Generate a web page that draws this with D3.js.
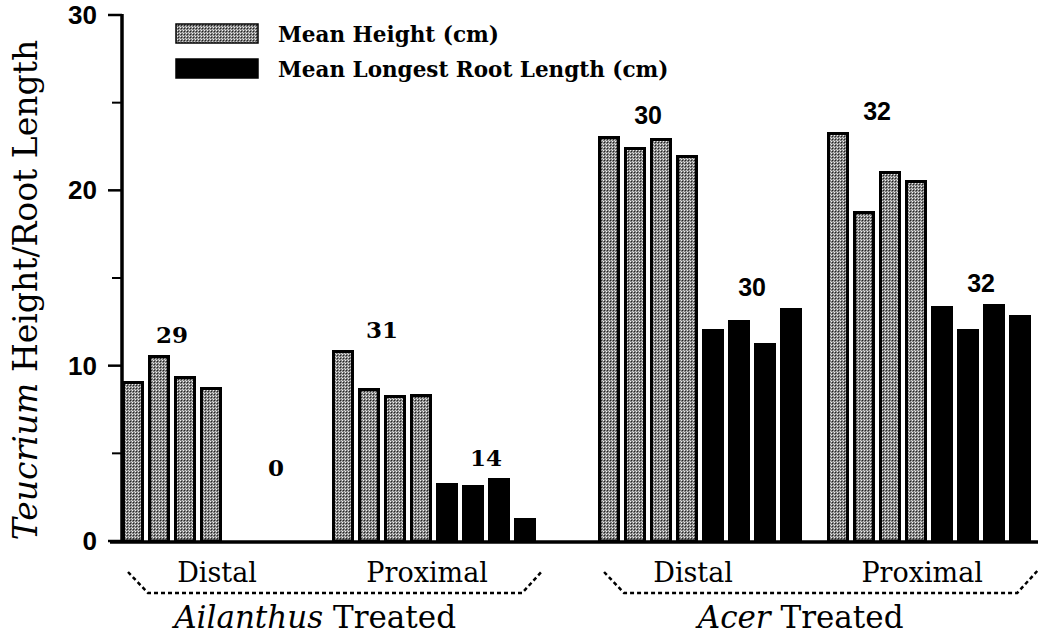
<!DOCTYPE html>
<html>
<head>
<meta charset="utf-8">
<script src="https://cdn.jsdelivr.net/npm/d3@7"></script>
<style>
  body { margin: 0; background: #fff; }
  svg text { fill: #000; }
</style>
</head>
<body>
<script>
// data
var treatments = ["Ailanthus", "Acer"];
var positions = ["Distal", "Proximal"];
// one row per treatment/position group: Ailanthus distal, Ailanthus proximal, Acer distal, Acer proximal
var meanHeight = [
  [9.1, 10.6, 9.4, 8.8],
  [10.9, 8.7, 8.3, 8.4],
  [23.1, 22.5, 23.0, 22.0],
  [23.3, 18.8, 21.1, 20.6]
];
var meanRoot = [
  [0, 0, 0, 0],
  [3.3, 3.2, 3.6, 1.3],
  [12.1, 12.6, 11.3, 13.3],
  [13.4, 12.1, 13.5, 12.9]
];
var nHeight = [29, 31, 30, 32];
var nRoot = [0, 14, 30, 32];
var majorTicks = [0, 10, 20, 30];
var minorTicks = [5, 15, 25];
var legendLabels = ["Mean Height (cm)", "Mean Longest Root Length (cm)"];

var width = 1063, height = 639;

var svg = d3.select("body").append("svg")
    .attr("width", width)
    .attr("height", height);

// stipple fill for the height bars
var defs = svg.append("defs");
var pat = defs.append("pattern")
    .attr("id", "stip")
    .attr("patternUnits", "userSpaceOnUse")
    .attr("width", 3).attr("height", 3);
pat.append("rect").attr("width", 3).attr("height", 3).attr("fill", "#808080");
pat.append("rect").attr("x", 0).attr("y", 0).attr("width", 1).attr("height", 1).attr("fill", "#f2f2f2");
pat.append("rect").attr("x", 1).attr("y", 1).attr("width", 1).attr("height", 1).attr("fill", "#222");
pat.append("rect").attr("x", 2).attr("y", 2).attr("width", 1).attr("height", 1).attr("fill", "#cfcfcf");

// layout: each group = 8 slots (4 height bars then 4 root bars)
var groupStart = [0, 8.08, 18.31, 27.12];
var x = d3.scaleLinear().domain([0, 35.12]).range([122, 122 + 35.12 * 26]);
var y = d3.scaleLinear().domain([0, 30]).range([541, 15]);
var barW = x(0.85) - x(0);

var serif = "'DejaVu Serif', serif";
var sans = "'Liberation Sans', Arial, sans-serif";

// bars
var bars = [];
meanHeight.forEach(function(vals, g) {
  vals.forEach(function(v, i) { bars.push({g: g, slot: groupStart[g] + i, v: v, kind: "h"}); });
});
meanRoot.forEach(function(vals, g) {
  vals.forEach(function(v, i) { if (v > 0) bars.push({g: g, slot: groupStart[g] + 4 + i, v: v, kind: "r"}); });
});

svg.append("g").selectAll("rect")
    .data(bars)
  .enter().append("rect")
    .attr("x", function(d) { return Math.round(x(d.slot)) + 1.5; })
    .attr("y", function(d) { return Math.round(y(d.v)) + 1.5; })
    .attr("width", Math.round(barW) - 3)
    .attr("height", function(d) { return Math.round(y(0)) - Math.round(y(d.v)) - 1.5; })
    .attr("fill", function(d) { return d.kind === "h" ? "url(#stip)" : "#000"; })
    .attr("stroke", "#000")
    .attr("stroke-width", 3);

// sample-size labels over each set of four bars
var counts = [];
nHeight.forEach(function(n, g) { counts.push({g: g, off: 0, n: n, vals: meanHeight[g]}); });
nRoot.forEach(function(n, g) { counts.push({g: g, off: 4, n: n, vals: meanRoot[g]}); });

svg.append("g").selectAll("text")
    .data(counts)
  .enter().append("text")
    .attr("x", function(d) { return x(groupStart[d.g] + d.off + 2) - 2; })
    .attr("y", function(d) { return y(Math.max(d3.max(d.vals), 3)) - 12; })
    .attr("text-anchor", "middle")
    .style("font-family", function(d) { return d.g < 2 ? serif : sans; })
    .style("font-weight", "bold")
    .style("font-size", function(d) { return d.g < 2 ? "23px" : "25px"; })
    .text(function(d) { return d.n; });

// y axis
var yAxis = svg.append("g");
yAxis.append("line")
    .attr("x1", 122).attr("x2", 122)
    .attr("y1", y(30) - 1).attr("y2", y(0) + 1)
    .attr("stroke", "#000").attr("stroke-width", 3.5);
yAxis.selectAll(".major").data(majorTicks).enter().append("line")
    .attr("x1", 108).attr("x2", 122)
    .attr("y1", function(d) { return y(d); }).attr("y2", function(d) { return y(d); })
    .attr("stroke", "#000").attr("stroke-width", 2.5);
yAxis.selectAll(".minor").data(minorTicks).enter().append("line")
    .attr("x1", 112).attr("x2", 122)
    .attr("y1", function(d) { return y(d); }).attr("y2", function(d) { return y(d); })
    .attr("stroke", "#000").attr("stroke-width", 2);
yAxis.selectAll("text").data(majorTicks).enter().append("text")
    .attr("x", 97)
    .attr("y", function(d) { return y(d) + 9; })
    .attr("text-anchor", "end")
    .style("font-family", sans)
    .style("font-weight", "bold")
    .style("font-size", "26px")
    .text(function(d) { return d; });

// x axis baseline
svg.append("line")
    .attr("x1", 110).attr("x2", 1038)
    .attr("y1", y(0) + 1).attr("y2", y(0) + 1)
    .attr("stroke", "#000").attr("stroke-width", 3.5);

// y title
var yTitle = svg.append("text")
    .attr("transform", "translate(37,290) rotate(-90)")
    .attr("text-anchor", "middle")
    .style("font-family", serif)
    .style("font-size", "33px");
yTitle.append("tspan").style("font-style", "italic").text("Teucrium");
yTitle.append("tspan").text(" Height/Root Length");

// position labels and treatment brackets
treatments.forEach(function(t, ti) {
  var g0 = ti * 2, g1 = ti * 2 + 1;
  positions.forEach(function(p, pi) {
    var g = ti * 2 + pi;
    svg.append("text")
      .attr("x", (x(groupStart[g]) + x(groupStart[g] + 7) + barW) / 2 - 7)
      .attr("y", 582)
      .attr("text-anchor", "middle")
      .style("font-family", serif)
      .style("font-size", "27px")
      .text(p);
  });
  var left = x(groupStart[g0]) + 6;
  var right = x(groupStart[g1] + 7) + barW + 6;
  svg.append("path")
    .attr("d", d3.line()([[left, 572], [left + 20, 593], [right - 20, 593], [right, 571]]))
    .attr("fill", "none")
    .attr("stroke", "#000")
    .attr("stroke-width", 2.5)
    .attr("stroke-dasharray", "4,3");
  var lab = svg.append("text")
    .attr("x", (left + right) / 2 - 20)
    .attr("y", 628)
    .attr("text-anchor", "middle")
    .style("font-family", serif)
    .style("font-size", "31px");
  lab.append("tspan").style("font-style", "italic").text(t);
  lab.append("tspan").text(" Treated");
});

// legend
var legend = svg.append("g");
legendLabels.forEach(function(l, i) {
  legend.append("rect")
    .attr("x", 176).attr("y", 24 + i * 35)
    .attr("width", 82).attr("height", 19)
    .attr("fill", i === 0 ? "url(#stip)" : "#000")
    .attr("stroke", "#000").attr("stroke-width", 1.5);
  legend.append("text")
    .attr("x", 278).attr("y", 42 + i * 35)
    .style("font-family", serif)
    .style("font-weight", "bold")
    .style("font-size", "21.5px")
    .text(l);
});
</script>
</body>
</html>
